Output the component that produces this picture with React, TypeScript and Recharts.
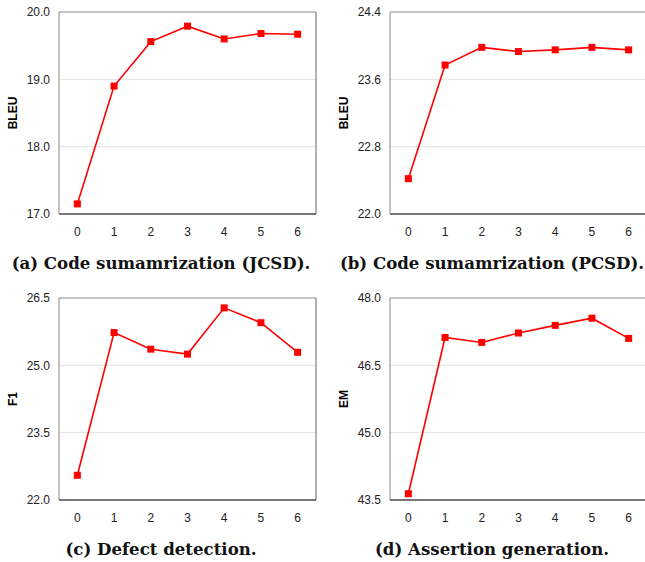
import { LineChart, Line, XAxis, YAxis, CartesianGrid } from 'recharts'

const steps = [0, 1, 2, 3, 4, 5, 6]

const jcsdBleu = [17.15, 18.9, 19.56, 19.79, 19.6, 19.68, 19.67]
const pcsdBleu = [22.42, 23.77, 23.98, 23.93, 23.95, 23.98, 23.95]
const defectF1 = [22.55, 25.73, 25.36, 25.25, 26.28, 25.95, 25.29]
const assertEm = [43.64, 47.12, 47.01, 47.22, 47.39, 47.55, 47.1]

const jcsdTicks = [17.0, 18.0, 19.0, 20.0]
const pcsdTicks = [22.0, 22.8, 23.6, 24.4]
const defectTicks = [22.0, 23.5, 25.0, 26.5]
const assertTicks = [43.5, 45.0, 46.5, 48.0]

const RED = '#ff0000'

function SquareDot(props: any) {
  const { cx, cy, index } = props
  if (cx == null || cy == null) return null
  return <rect key={index} x={cx - 3.5} y={cy - 3.5} width={7} height={7} fill={RED} />
}

interface PanelProps {
  values: number[]
  ticks: number[]
  metric: string
  caption: string
  left: number
  top: number
}

function Panel({ values, ticks, metric, caption, left, top }: PanelProps) {
  const data = steps.map((s, i) => ({ x: s, v: values[i] }))
  const yMin = ticks[0]
  const yMax = ticks[ticks.length - 1]
  const xMin = steps[0] - 0.5
  const xMax = steps[steps.length - 1] + 0.5
  // plot frame (top and right edges), built from the axis domains
  const topEdge = [{ x: xMin, f: yMax }, { x: xMax, f: yMax }]
  const rightEdge = [{ x: xMax, f: yMax }, { x: xMax, f: yMin }]
  return (
    <div style={{ position: 'absolute', left, top, width: 330, height: 280 }}>
      <LineChart width={322} height={250} data={data} margin={{ top: 12, right: 6, left: 0, bottom: 0 }}>
        <CartesianGrid horizontal vertical={false} stroke="#e3e3e3" />
        <XAxis
          dataKey="x"
          type="number"
          domain={[xMin, xMax]}
          ticks={steps}
          interval={0}
          tickLine={false}
          axisLine={{ stroke: '#000' }}
          tick={{ fill: '#222', fontSize: 12 }}
          tickMargin={7}
          height={36}
        />
        <YAxis
          type="number"
          domain={[yMin, yMax]}
          ticks={ticks}
          tickFormatter={(v: number) => v.toFixed(1)}
          tickLine={false}
          axisLine={{ stroke: '#888' }}
          tick={{ fill: '#222', fontSize: 12 }}
          tickMargin={3}
          width={59}
          interval={0}
          label={{
            content: (p: any) => {
              const vb = p.viewBox
              const cy = vb.y + vb.height / 2
              return (
                <text
                  x={12.5}
                  y={cy}
                  transform={`rotate(-90 12.5 ${cy})`}
                  textAnchor="middle"
                  dominantBaseline="central"
                  fontSize={12}
                  fontWeight="bold"
                  fill="#000"
                  fontFamily="'Liberation Sans', Arial, sans-serif"
                >
                  {metric}
                </text>
              )
            },
          }}
        />
        <Line data={topEdge} dataKey="f" stroke="#999" strokeWidth={1} dot={false} activeDot={false} isAnimationActive={false} />
        <Line data={rightEdge} dataKey="f" stroke="#666" strokeWidth={1} dot={false} activeDot={false} isAnimationActive={false} />
        <Line
          dataKey="v"
          stroke={RED}
          strokeWidth={1.6}
          dot={<SquareDot />}
          activeDot={false}
          isAnimationActive={false}
        />
      </LineChart>
      <div
        style={{
          position: 'absolute',
          left: 0,
          top: 253,
          width: 322,
          textAlign: 'center',
          whiteSpace: 'nowrap',
          fontFamily: "'DejaVu Serif', serif",
          fontWeight: 'bold',
          fontSize: 16.6,
          color: '#111',
        }}
      >
        {caption}
      </div>
    </div>
  )
}

export default function App() {
  return (
    <div
      style={{
        position: 'absolute',
        left: 0,
        top: 0,
        width: 645,
        height: 562,
        overflow: 'hidden',
        background: '#fff',
        fontFamily: "'Liberation Sans', Arial, sans-serif",
      }}
    >
      <Panel values={jcsdBleu} ticks={jcsdTicks} metric="BLEU" caption="(a) Code sumamrization (JCSD)." left={0} top={0} />
      <Panel values={pcsdBleu} ticks={pcsdTicks} metric="BLEU" caption="(b) Code sumamrization (PCSD)." left={331} top={0} />
      <Panel values={defectF1} ticks={defectTicks} metric="F1" caption="(c) Defect detection." left={0} top={286} />
      <Panel values={assertEm} ticks={assertTicks} metric="EM" caption="(d) Assertion generation." left={331} top={286} />
    </div>
  )
}
